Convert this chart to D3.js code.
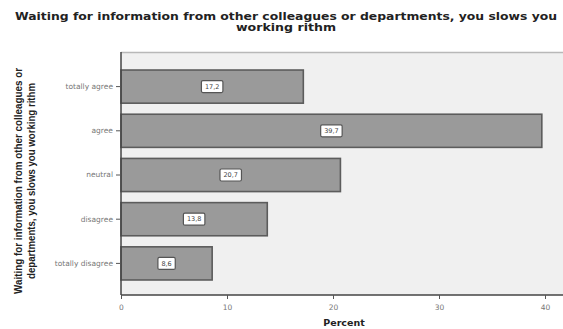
<!DOCTYPE html>
<html>
<head>
<meta charset="utf-8">
<script src="https://cdn.jsdelivr.net/npm/d3@7"></script>
<style>
  html, body { margin: 0; padding: 0; background: #fff; }
  svg { display: block; }
</style>
</head>
<body>
<svg id="chart" width="563" height="329"></svg>
<script>
// Answer categories, top to bottom
const categories = ["totally agree", "agree", "neutral", "disagree", "totally disagree"];
// Share of respondents (%)
const percents = [17.2, 39.7, 20.7, 13.8, 8.6];
// Axis ticks
const xTicks = [0, 10, 20, 30, 40];

const titleLines = [
  "Waiting for information from other colleagues or departments, you slows you",
  "working rithm"
];
const titleWidths = [542, 100];
const yTitleLines = [
  "Waiting for information from other colleagues or",
  "departments, you slows you working rithm"
];
const yTitleWidths = [226, 196];
const xTitle = "Percent";

const svg = d3.select("#chart");

const plot = { left: 121, top: 52, right: 563, bottom: 295 };

const x = d3.scaleLinear().domain([0, 40]).range([plot.left, 545]);
const y = d3.scaleBand()
  .domain(categories)
  .range([64.5, 285.5])
  .paddingInner(0.25)
  .paddingOuter(0.125);

// Plot background
svg.append("rect")
  .attr("x", plot.left).attr("y", plot.top)
  .attr("width", plot.right - plot.left).attr("height", plot.bottom - plot.top)
  .attr("fill", "#f0f0f0");
svg.append("line")
  .attr("x1", plot.left).attr("x2", plot.right)
  .attr("y1", plot.top + 0.5).attr("y2", plot.top + 0.5)
  .attr("stroke", "#b8b8b8").attr("stroke-width", 1.5);

// Bars
const rows = categories.map((c, i) => ({ cat: c, val: percents[i] }));
svg.append("g").selectAll("rect")
  .data(rows)
  .join("rect")
  .attr("x", x(0))
  .attr("y", d => y(d.cat))
  .attr("width", d => x(d.val) - x(0))
  .attr("height", y.bandwidth())
  .attr("fill", "#9a9a9a")
  .attr("stroke", "#5c5c5c")
  .attr("stroke-width", 1.6);

// Value labels in small boxed tags
const fmt = v => d3.format(".1f")(v).replace(".", ",");
const tags = svg.append("g").selectAll("g")
  .data(rows)
  .join("g")
  .attr("transform", d => `translate(${(x(0) + x(d.val)) / 2},${y(d.cat) + y.bandwidth() / 2})`);
tags.append("text")
  .attr("text-anchor", "middle")
  .attr("dy", "0.35em")
  .attr("font-family", "DejaVu Sans, Verdana, sans-serif")
  .attr("font-size", 6.5)
  .attr("fill", "#444")
  .text(d => fmt(d.val))
  .each(function () {
    const b = this.getBBox();
    d3.select(this.parentNode).insert("rect", "text")
      .attr("x", b.x - 3.5).attr("y", -6)
      .attr("width", b.width + 7).attr("height", 12)
      .attr("rx", 1.5)
      .attr("fill", "#fff")
      .attr("stroke", "#555")
      .attr("stroke-width", 1.2);
  });

// X axis
const xAxis = svg.append("g")
  .attr("transform", `translate(0,${plot.bottom})`)
  .call(d3.axisBottom(x).tickValues(xTicks).tickSize(4).tickPadding(6));
xAxis.select(".domain").attr("d", `M${plot.left},0H${plot.right}`)
  .attr("stroke", "#444").attr("stroke-width", 1.5);
xAxis.selectAll(".tick line").attr("stroke", "#555");
xAxis.selectAll(".tick text")
  .attr("font-family", "DejaVu Sans, Verdana, sans-serif")
  .attr("font-size", 7.5).attr("fill", "#777");

// Y axis
const yAxis = svg.append("g")
  .attr("transform", `translate(${plot.left},0)`)
  .call(d3.axisLeft(y).tickSize(5).tickPadding(3));
yAxis.select(".domain").attr("d", `M0,${plot.top}V${plot.bottom}`)
  .attr("stroke", "#444").attr("stroke-width", 1.5);
yAxis.selectAll(".tick line").attr("stroke", "#555");
yAxis.selectAll(".tick text")
  .attr("font-family", "DejaVu Sans, Verdana, sans-serif")
  .attr("font-size", 7.5).attr("fill", "#777");

// Chart title
svg.append("g").selectAll("text")
  .data(titleLines)
  .join("text")
  .attr("x", 286)
  .attr("y", (d, i) => 20 + i * 11)
  .attr("text-anchor", "middle")
  .attr("font-family", "DejaVu Sans, Verdana, sans-serif")
  .attr("font-weight", "bold")
  .attr("font-size", 10.5)
  .attr("textLength", (d, i) => titleWidths[i])
  .attr("lengthAdjust", "spacingAndGlyphs")
  .attr("fill", "#222")
  .text(d => d);

// X axis title
svg.append("text")
  .attr("x", 344).attr("y", 326)
  .attr("text-anchor", "middle")
  .attr("font-family", "DejaVu Sans, Verdana, sans-serif")
  .attr("font-weight", "bold")
  .attr("font-size", 9.5)
  .attr("fill", "#222")
  .text(xTitle);

// Y axis title
svg.append("g")
  .attr("transform", "translate(0,181) rotate(-90)")
  .selectAll("text")
  .data(yTitleLines)
  .join("text")
  .attr("x", 0)
  .attr("y", (d, i) => 22 + i * 13)
  .attr("text-anchor", "middle")
  .attr("font-family", "Liberation Sans, Arial, sans-serif")
  .attr("font-weight", "bold")
  .attr("font-size", 10.5)
  .attr("textLength", (d, i) => yTitleWidths[i])
  .attr("lengthAdjust", "spacingAndGlyphs")
  .attr("fill", "#222")
  .text(d => d);
</script>
</body>
</html>
